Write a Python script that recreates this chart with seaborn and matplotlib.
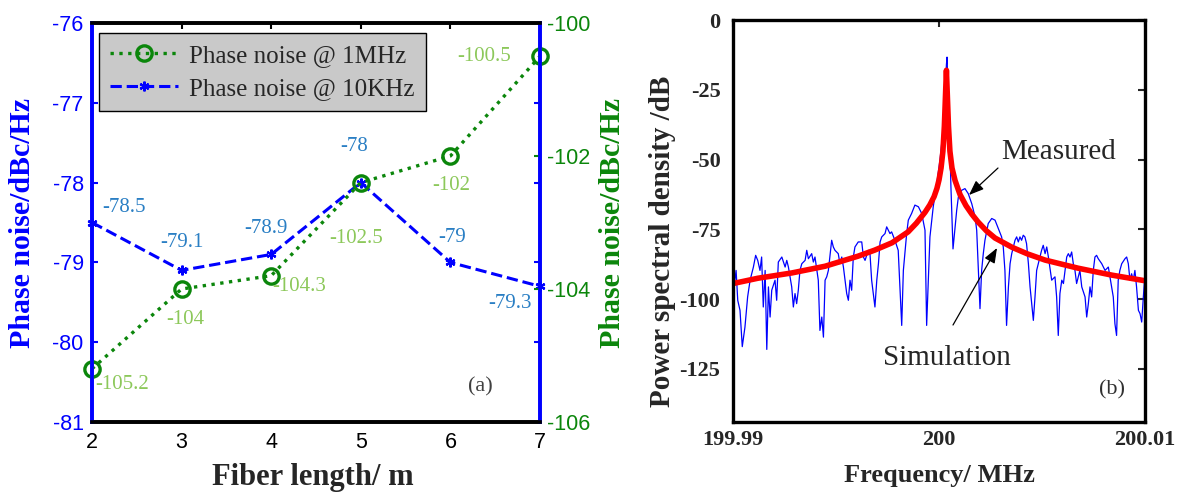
import matplotlib
matplotlib.use("Agg")
import matplotlib.pyplot as plt
import seaborn as sns

# ---- data: panel (a) ----
fiber_length = [2, 3, 4, 5, 6, 7]
pn_10khz = [-78.5, -79.1, -78.9, -78.0, -79.0, -79.3]
pn_1mhz = [-105.2, -104.0, -103.8, -102.4, -102.0, -100.5]
labels_10khz = ["-78.5", "-79.1", "-78.9", "-78", "-79", "-79.3"]
labels_1mhz = ["-105.2", "-104", "-104.3", "-102.5", "-102", "-100.5"]

# ---- data: panel (b), frequency offset from 200 MHz in kHz ----
meas_khz = [-10.0, -9.93, -9.85, -9.77, -9.66, -9.55, -9.42, -9.29, -9.17, -9.01,
            -8.90, -8.80, -8.69, -8.61, -8.53, -8.44, -8.36, -8.28, -8.20, -8.12,
            -7.96, -7.88, -7.80, -7.63, -7.47, -7.39, -7.31, -7.15, -7.07, -6.99,
            -6.91, -6.83, -6.75, -6.66, -6.50, -6.42, -6.34, -6.18, -6.10, -6.02,
            -5.86, -5.78, -5.69, -5.61, -5.53, -5.45, -5.37, -5.21, -5.13, -5.05,
            -4.89, -4.81, -4.72, -4.64, -4.48, -4.40, -4.32, -4.24, -4.16, -4.08,
            -3.92, -3.75, -3.67, -3.59, -3.43, -3.35, -3.27, -3.11, -3.02, -2.94,
            -2.86, -2.78, -2.62, -2.54, -2.46, -2.38, -2.30, -2.14, -1.98, -1.89,
            -1.81, -1.73, -1.57, -1.49, -1.33, -1.17, -1.00, -0.84, -0.68, -0.60,
            -0.44, -0.28, -0.11, 0.05, 0.19, 0.29, 0.36, 0.39, 0.44, 0.49,
            0.58, 0.68, 0.86, 0.94, 1.10, 1.26, 1.42, 1.59, 1.75, 1.83,
            1.91, 1.99, 2.07, 2.15, 2.23, 2.39, 2.56, 2.72, 2.88, 3.04,
            3.12, 3.20, 3.28, 3.37, 3.45, 3.53, 3.69, 3.77, 3.85, 3.93,
            4.01, 4.09, 4.17, 4.25, 4.34, 4.42, 4.50, 4.58, 4.66, 4.74,
            4.82, 4.98, 5.06, 5.15, 5.23, 5.31, 5.47, 5.63, 5.71, 5.79,
            5.87, 5.96, 6.04, 6.12, 6.20, 6.28, 6.36, 6.44, 6.52, 6.60,
            6.68, 6.76, 6.84, 6.93, 7.09, 7.17, 7.25, 7.33, 7.41, 7.49,
            7.57, 7.65, 7.73, 7.90, 8.06, 8.22, 8.30, 8.38, 8.46, 8.54,
            8.62, 8.70, 8.78, 8.87, 9.03, 9.11, 9.19, 9.27, 9.35, 9.43,
            9.51, 9.59, 9.68, 9.76, 9.84, 9.92, 10.0]
meas_db = [-89.7, -94.4, -89.7, -100.4, -104.0, -117.0, -110.0, -99.2, -93.2, -88.5,
           -84.3, -86.1, -89.7, -84.9, -102.8, -89.7, -118.0, -95.6, -106.4, -96.8,
           -93.2, -100.4, -86.7, -84.9, -88.5, -86.1, -88.5, -95.6, -102.8, -98.0,
           -101.6, -96.8, -89.7, -87.3, -86.1, -82.5, -85.5, -83.7, -86.7, -84.9,
           -93.2, -111.2, -106.4, -113.6, -93.2, -92.0, -89.7, -78.9, -81.3, -82.5,
           -83.7, -87.3, -84.9, -88.5, -98.0, -100.4, -93.2, -96.8, -84.9, -81.3,
           -79.5, -79.5, -84.9, -86.1, -82.5, -83.7, -93.2, -102.8, -93.2, -87.3,
           -79.5, -77.7, -76.5, -74.1, -75.3, -76.5, -75.9, -78.9, -82.5, -96.8,
           -109.4, -89.7, -76.5, -71.7, -69.3, -66.3, -66.9, -69.3, -75.3, -109.4,
           -77.7, -66.9, -58.6, -50.0, -40.0, -28.0, -16.0, -13.3, -25.0, -35.0,
           -60.0, -82.0, -68.1, -63.4, -61.0, -60.4, -62.2, -65.8, -70.5, -75.3,
           -89.7, -103.4, -89.7, -83.7, -78.9, -72.9, -71.1, -71.7, -74.7, -77.7,
           -81.3, -89.7, -109.4, -95.6, -87.3, -83.7, -78.9, -77.7, -79.5, -77.7,
           -78.9, -77.1, -77.7, -80.1, -87.3, -95.6, -101.6, -107.6, -99.2, -89.7,
           -87.3, -82.5, -80.7, -83.7, -81.3, -84.9, -93.2, -92.0, -99.2, -113.0,
           -98.0, -93.2, -94.4, -89.7, -84.9, -83.7, -84.9, -83.1, -87.3, -89.7,
           -94.4, -92.0, -89.7, -95.6, -99.2, -106.4, -101.6, -95.6, -99.2, -89.7,
           -84.9, -84.3, -85.5, -87.3, -89.7, -88.5, -92.0, -95.6, -99.2, -108.8,
           -113.0, -93.2, -89.7, -87.3, -85.5, -84.9, -87.3, -93.2, -90.9, -93.2,
           -89.7, -95.6, -104.0, -105.2, -108.2, -99.2, -90.9]
sim_khz = [-10.0, -8.79, -7.14, -5.53, -3.93, -3.11, -2.28, -1.50, -1.10, -0.68,
           -0.45, -0.24, -0.10, 0.0, 0.10, 0.19, 0.26, 0.31, 0.34, 0.36,
           0.38, 0.41, 0.46, 0.53, 0.63, 0.78, 1.02, 1.31, 1.60, 1.89,
           2.30, 2.72, 3.54, 4.30, 5.15, 6.75, 8.40, 10.0]
sim_db = [-94.4, -92.5, -90.6, -88.2, -84.6, -82.4, -79.8, -75.9, -72.8, -68.9,
          -66.3, -63.3, -60.3, -57.3, -53.0, -47.0, -38.0, -28.0, -22.0, -18.0,
          -22.0, -28.0, -38.0, -47.0, -53.0, -57.5, -62.5, -66.5, -69.6, -72.3,
          -75.5, -78.1, -81.4, -83.8, -86.0, -88.9, -91.4, -93.4]

BLUE = "#0000ff"
GREEN = "#0b860b"
LBL_BLUE = "#2a7fc4"
LBL_GREEN = "#8cc85a"
SERIF = ["Liberation Serif", "DejaVu Serif"]
SANS = ["Liberation Sans", "DejaVu Sans"]

sns.set_style("white")
plt.rcParams["font.family"] = SERIF
plt.rcParams["axes.unicode_minus"] = False

fig = plt.figure(figsize=(11.88, 4.95), dpi=100)

# ================= panel (a) =================
ax = fig.add_axes([92 / 1188, 73 / 495, 448 / 1188, 399 / 495])
ax2 = ax.twinx()

sns.lineplot(x=fiber_length, y=pn_10khz, ax=ax, color=BLUE, linestyle="--", lw=2.2,
             marker=(6, 2, 0), ms=7, mew=1.6, mec=BLUE, estimator=None, clip_on=False)
sns.lineplot(x=fiber_length, y=pn_1mhz, ax=ax2, color=GREEN, linestyle=":", lw=2.4,
             marker="o", ms=11, mew=2.4, mfc="none", mec=GREEN, estimator=None, clip_on=False)
line_blue = ax.lines[-1]
line_green = ax2.lines[-1]

ax.set_xlim(2, 7)
ax.set_ylim(-81, -76)
ax2.set_ylim(-106, -100)
ax.set_xticks(fiber_length)
ax.set_yticks([-81, -80, -79, -78, -77, -76])
ax2.set_yticks([-106, -104, -102, -100])

ax.tick_params(axis="x", direction="in", length=4, width=1.5, top=True, pad=7,
               labelsize=15.5, colors="black")
ax.tick_params(axis="y", direction="in", length=4, width=1.5, right=True, pad=6,
               labelsize=15.5, colors=BLUE)
ax2.tick_params(axis="y", direction="in", length=4, width=1.5, pad=5,
                labelsize=15.5, colors=GREEN)
for lab in ax.get_xticklabels() + ax.get_yticklabels() + ax2.get_yticklabels():
    lab.set_family(SANS)

for a in (ax, ax2):
    a.spines["left"].set_color(BLUE)
    a.spines["right"].set_color(BLUE)
    a.spines["top"].set_color("black")
    a.spines["bottom"].set_color("black")
    for s in a.spines.values():
        s.set_linewidth(2.6)
        s.set_visible(True)

# value labels (pixel offsets from each point)
off_10khz = [(32, 15), (0, 28), (-5, 26), (-7, 36), (2, 25), (-30, -17)]
off_1mhz = [(30, -16), (4, -31), (28, -11), (-5, -56), (1, -30), (-56, 0)]
for xv, yv, t, o in zip(fiber_length, pn_10khz, labels_10khz, off_10khz):
    ax.annotate(t, (xv, yv), xytext=o, textcoords="offset pixels", ha="center",
                va="center", fontsize=15, color=LBL_BLUE)
for xv, yv, t, o in zip(fiber_length, pn_1mhz, labels_1mhz, off_1mhz):
    ax2.annotate(t, (xv, yv), xytext=o, textcoords="offset pixels", ha="center",
                 va="center", fontsize=15, color=LBL_GREEN)

ax2.text(0.866, 0.088, "(a)", transform=ax2.transAxes, ha="center", va="center",
         fontsize=16, color="#404040")

leg = ax2.legend([line_green, line_blue], ["Phase noise @ 1MHz", "Phase noise @ 10KHz"],
                 loc="upper left", bbox_to_anchor=(0.0156, 0.975), borderaxespad=0,
                 fontsize=18, frameon=True, fancybox=False, framealpha=1,
                 facecolor="#c9c9c9", edgecolor="black", handlelength=2.7,
                 handletextpad=0.45, labelspacing=0.42, borderpad=0.45)
leg.get_frame().set_linewidth(1.0)

ax.set_xlabel("Fiber length/ m", fontsize=22, fontweight="bold", va="center")
ax.xaxis.set_label_coords(0.493, -0.14)
ax.set_ylabel("Phase noise/dBc/Hz", fontsize=21.5, fontweight="bold", color=BLUE,
              va="center", ha="center")
ax.yaxis.set_label_coords(-0.156, 0.5)
ax2.set_ylabel("Phase noise/dBc/Hz", fontsize=21.5, fontweight="bold", color=GREEN,
               va="center", ha="center", rotation=90)
ax2.yaxis.set_label_coords(1.161, 0.5)

# ================= panel (b) =================
bx = fig.add_axes([733 / 1188, 73 / 495, 412 / 1188, 402 / 495])
meas_mhz = [200 + k / 1000 for k in meas_khz]
sim_mhz = [200 + k / 1000 for k in sim_khz]
sns.lineplot(x=meas_mhz, y=meas_db, ax=bx, color=BLUE, lw=0.9, estimator=None, sort=False)
sns.lineplot(x=sim_mhz, y=sim_db, ax=bx, color="#ff0000", lw=4.0, estimator=None, sort=False)

bx.set_xlim(199.99, 200.01)
bx.set_ylim(-144, 0)
bx.set_xticks([199.99, 200.0, 200.01])
bx.set_xticklabels(["199.99", "200", "200.01"])
bx.set_yticks([-125, -100, -75, -50, -25, 0])
bx.set_yticklabels(["-125", "-100", "-75", "-50", "-25", "0"])
bx.tick_params(axis="x", direction="in", length=5, width=1.5, top=True, pad=6, labelsize=16)
bx.tick_params(axis="y", direction="in", length=5, width=1.5, right=True, pad=9, labelsize=16)
for lab in bx.get_xticklabels() + bx.get_yticklabels():
    lab.set_fontweight("bold")
for s in bx.spines.values():
    s.set_visible(True)
    s.set_color("black")
    s.set_linewidth(2.4)

bx.set_xlabel("Frequency/ MHz", fontsize=19, fontweight="bold", va="center")
bx.xaxis.set_label_coords(0.5, -0.132)
bx.set_ylabel("Power spectral density /dB", fontsize=21, fontweight="bold",
              va="center", ha="center")
bx.yaxis.set_label_coords(-0.172, 0.45)

arrow = dict(arrowstyle="-|>,head_length=0.9,head_width=0.35", color="black", lw=0.9,
             shrinkA=0, shrinkB=0)
bx.annotate("", xy=(0.5728, 0.5647), xytext=(0.6432, 0.6318), xycoords="axes fraction",
            textcoords="axes fraction", arrowprops=arrow)
bx.text(0.7913, 0.6716, "Measured", transform=bx.transAxes, ha="center", va="center",
        fontsize=21)
bx.annotate("", xy=(0.6408, 0.4328), xytext=(0.534, 0.2413), xycoords="axes fraction",
            textcoords="axes fraction", arrowprops=arrow)
bx.text(0.5194, 0.1592, "Simulation", transform=bx.transAxes, ha="center", va="center",
        fontsize=21)
bx.text(0.92, 0.08, "(b)", transform=bx.transAxes, ha="center", va="center",
        fontsize=16, color="#303030")

fig.savefig("out.png", dpi=100)
